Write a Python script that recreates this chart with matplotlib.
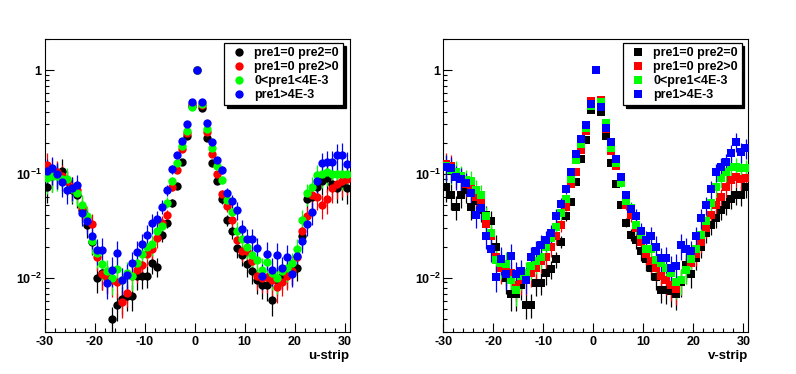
import matplotlib
matplotlib.use("Agg")
import matplotlib.pyplot as plt
from matplotlib.lines import Line2D
from matplotlib.ticker import FixedLocator, LogLocator, MultipleLocator, FuncFormatter, NullFormatter

# ---------------- data ----------------
strip_centers = [k + 0.5 for k in range(-30, 31)]   # bin centers -29.5 ... 30.5

labels = ["pre1=0 pre2=0", "pre1=0 pre2>0", "0<pre1<4E-3", "pre1>4E-3"]
colors = ["#000000", "#ff0000", "#00ff00", "#0000ff"]

u_black = [0.075, 0.095, 0.10, 0.108, 0.085, 0.07, 0.063, 0.045, 0.032, 0.022,
           0.010, 0.011, 0.0101, 0.0040, 0.0055, 0.0062, 0.0066, 0.0067, 0.0103, 0.0104,
           0.0104, 0.0138, 0.0128, 0.026, 0.034, 0.053, 0.077, 0.13, 0.23, 0.45,
           1.0,
           0.43, 0.22, 0.127, 0.085, 0.057, 0.036, 0.028, 0.0193, 0.0166, 0.0135,
           0.0115, 0.0095, 0.0086, 0.0086, 0.0061, 0.0095, 0.0105, 0.011, 0.0115, 0.0124,
           0.025, 0.058, 0.06, 0.075, 0.085, 0.091, 0.08, 0.073, 0.081, 0.073]
u_red = [0.122, 0.11, 0.105, 0.095, 0.085, 0.075, 0.07, 0.048, 0.038, 0.033,
         0.016, 0.0109, 0.010, 0.0095, 0.0092, 0.0058, 0.0072, 0.0105, 0.012, 0.0133,
         0.017, 0.019, 0.024, 0.034, 0.040, 0.075, 0.11, 0.173, 0.25, 0.47,
         1.0,
         0.46, 0.255, 0.157, 0.101, 0.064, 0.049, 0.036, 0.023, 0.018, 0.018,
         0.0144, 0.0103, 0.0100, 0.0102, 0.0096, 0.0081, 0.0092, 0.0105, 0.0115, 0.016,
         0.028, 0.039, 0.063, 0.06, 0.05, 0.057, 0.073, 0.08, 0.085, 0.089]
u_green = [0.091, 0.096, 0.095, 0.09, 0.09, 0.072, 0.066, 0.050, 0.039, 0.0226,
           0.0173, 0.0135, 0.0115, 0.010, 0.0121, 0.0095, 0.0110, 0.0103, 0.014, 0.017,
           0.020, 0.021, 0.028, 0.0316, 0.053, 0.086, 0.127, 0.186, 0.26, 0.44,
           1.0,
           0.47, 0.27, 0.18, 0.12, 0.088, 0.056, 0.043, 0.0285, 0.0236, 0.020,
           0.0166, 0.0149, 0.012, 0.0142, 0.011, 0.0099, 0.0115, 0.0125, 0.0138, 0.019,
           0.036, 0.065, 0.075, 0.098, 0.10, 0.105, 0.10, 0.10, 0.10, 0.10]
u_blue = [0.108, 0.113, 0.10, 0.083, 0.070, 0.074, 0.078, 0.042, 0.035, 0.025,
          0.0186, 0.0184, 0.0089, 0.0119, 0.0173, 0.0096, 0.0107, 0.0138, 0.0179, 0.021,
          0.026, 0.034, 0.037, 0.0485, 0.070, 0.111, 0.152, 0.21, 0.30, 0.49,
          1.0,
          0.49, 0.31, 0.205, 0.136, 0.11, 0.066, 0.055, 0.045, 0.0296, 0.0236,
          0.0236, 0.0193, 0.0105, 0.017, 0.012, 0.0166, 0.0124, 0.016, 0.0109, 0.0163,
          0.0227, 0.033, 0.043, 0.086, 0.127, 0.131, 0.131, 0.152, 0.152, 0.125]

v_black = [0.075, 0.063, 0.0485, 0.063, 0.07, 0.0485, 0.055, 0.045, 0.04, 0.035,
           0.02, 0.013, 0.01, 0.0069, 0.0069, 0.0085, 0.0055, 0.0055, 0.0089, 0.0089,
           0.011, 0.0121, 0.015, 0.0223, 0.039, 0.054, 0.084, 0.139, 0.212, 0.41,
           1.0,
           0.40, 0.23, 0.128, 0.08, 0.05, 0.034, 0.026, 0.023, 0.018, 0.015,
           0.0124, 0.0101, 0.0077, 0.0077, 0.0074, 0.0070, 0.009, 0.0133, 0.0108, 0.0155,
           0.02, 0.027, 0.032, 0.038, 0.045, 0.05, 0.058, 0.063, 0.063, 0.075]
v_red = [0.125, 0.12, 0.1, 0.09, 0.08, 0.072, 0.06, 0.055, 0.033, 0.025,
         0.016, 0.0125, 0.012, 0.011, 0.0085, 0.0095, 0.0095, 0.011, 0.0125, 0.0145,
         0.016, 0.020, 0.025, 0.032, 0.0485, 0.08, 0.105, 0.17, 0.26, 0.51,
         1.0,
         0.52, 0.27, 0.168, 0.12, 0.088, 0.05, 0.04, 0.03, 0.022, 0.017,
         0.0145, 0.0125, 0.0105, 0.0095, 0.0085, 0.0078, 0.0095, 0.012, 0.014, 0.017,
         0.022, 0.03, 0.04, 0.05, 0.06, 0.075, 0.088, 0.094, 0.09, 0.091]
v_green = [0.12, 0.11, 0.105, 0.095, 0.088, 0.085, 0.07, 0.063, 0.039, 0.027,
           0.0149, 0.014, 0.0135, 0.0095, 0.0077, 0.0105, 0.011, 0.0129, 0.0145, 0.016,
           0.02, 0.024, 0.031, 0.042, 0.057, 0.09, 0.136, 0.195, 0.28, 0.45,
           1.0,
           0.49, 0.31, 0.18, 0.127, 0.081, 0.055, 0.047, 0.032, 0.026, 0.019,
           0.019, 0.0149, 0.014, 0.0125, 0.011, 0.009, 0.0095, 0.012, 0.015, 0.019,
           0.026, 0.035, 0.052, 0.075, 0.091, 0.105, 0.118, 0.118, 0.115, 0.113]
v_blue = [0.118, 0.113, 0.094, 0.09, 0.081, 0.065, 0.040, 0.047, 0.025, 0.0189,
          0.0101, 0.0151, 0.0109, 0.0163, 0.0109, 0.0115, 0.0096, 0.0158, 0.018, 0.0208,
          0.023, 0.027, 0.039, 0.051, 0.071, 0.104, 0.156, 0.217, 0.296, 0.47,
          1.0,
          0.44, 0.28, 0.205, 0.14, 0.094, 0.063, 0.046, 0.039, 0.028, 0.023,
          0.025, 0.020, 0.0155, 0.0155, 0.0124, 0.013, 0.0208, 0.019, 0.018, 0.025,
          0.0375, 0.05, 0.071, 0.105, 0.118, 0.131, 0.158, 0.205, 0.164, 0.177]

# relative statistical errors per strip
rel_err_u = [0.30, 0.30, 0.28, 0.28, 0.26, 0.26, 0.25,
             0.25, 0.25, 0.25, 0.28, 0.30, 0.30, 0.32,
             0.30, 0.30, 0.28, 0.28, 0.26, 0.25, 0.24,
             0.22, 0.20, 0.15, 0.12, 0.09, 0.06, 0.04,
             0.03, 0.02, 0.01, 0.02, 0.03, 0.04, 0.06,
             0.09, 0.12, 0.15, 0.20, 0.22, 0.24, 0.25,
             0.26, 0.28, 0.30, 0.30, 0.30, 0.28, 0.28,
             0.26, 0.25, 0.24, 0.24, 0.25, 0.25, 0.26,
             0.27, 0.28, 0.28, 0.30, 0.30]
rel_err_v = [0.28, 0.28, 0.26, 0.26, 0.25, 0.25, 0.24,
             0.24, 0.24, 0.25, 0.28, 0.30, 0.30, 0.30,
             0.30, 0.28, 0.28, 0.26, 0.25, 0.24, 0.22,
             0.20, 0.18, 0.14, 0.10, 0.07, 0.05, 0.03,
             0.02, 0.02, 0.01, 0.02, 0.02, 0.03, 0.05,
             0.07, 0.10, 0.14, 0.18, 0.20, 0.22, 0.24,
             0.25, 0.26, 0.28, 0.30, 0.30, 0.28, 0.28,
             0.26, 0.24, 0.22, 0.20, 0.20, 0.20, 0.20,
             0.20, 0.20, 0.20, 0.22, 0.22]

u_series = [u_black, u_red, u_green, u_blue]
v_series = [v_black, v_red, v_green, v_blue]

# ---------------- style ----------------
plt.rcParams['font.family'] = ['Liberation Sans', 'DejaVu Sans']
plt.rcParams['font.weight'] = 'bold'
plt.rcParams['mathtext.fontset'] = 'custom'
plt.rcParams['mathtext.rm'] = 'Liberation Sans:bold'
plt.rcParams['mathtext.bf'] = 'Liberation Sans:bold'
plt.rcParams['mathtext.default'] = 'rm'
plt.rcParams['axes.unicode_minus'] = False

W, H = 796, 374
fig = plt.figure(figsize=(W / 100, H / 100), dpi=100)
fig.patch.set_facecolor('white')

ax_u = fig.add_axes([44.5 / W, (H - 332) / H, 305 / W, 293 / H])
ax_v = fig.add_axes([443.3 / W, (H - 332) / H, 305 / W, 293 / H])


def ylab(v, pos):
    if abs(v - 1) < 1e-9:
        return '1'
    if abs(v - 0.1) < 1e-9:
        return r'$10^{-1}$'
    if abs(v - 0.01) < 1e-9:
        return r'$10^{-2}$'
    return ''


def style_axis(ax, xlabel):
    ax.set_yscale('log')
    ax.set_xlim(-30, 31)
    ax.set_ylim(0.003, 2)
    ax.xaxis.set_major_locator(MultipleLocator(10))
    ax.xaxis.set_minor_locator(MultipleLocator(2))
    ax.yaxis.set_major_locator(FixedLocator([0.01, 0.1, 1]))
    ax.yaxis.set_major_formatter(FuncFormatter(ylab))
    ax.yaxis.set_minor_locator(LogLocator(base=10, subs=[2, 3, 4, 5, 6, 7, 8, 9]))
    ax.yaxis.set_minor_formatter(NullFormatter())
    ax.tick_params(axis='both', which='major', direction='in', length=6.5, width=0.8,
                   labelsize=9, top=False, right=False)
    ax.tick_params(axis='both', which='minor', direction='in', length=3.2, width=0.8,
                   top=False, right=False)
    ax.tick_params(axis='x', which='major', pad=3)
    ax.tick_params(axis='y', which='major', pad=2)
    for s in ax.spines.values():
        s.set_linewidth(0.8)
        s.set_color('black')
    ax.set_xlabel(xlabel, loc='right', fontsize=9.5, fontweight='bold', labelpad=1)


def draw(ax, series, marker, ms, xlabel):
    rel = rel_err_u if marker == 'o' else rel_err_v
    for vals, col in zip(series, colors):
        err = [v * r for v, r in zip(vals, rel)]
        ax.errorbar(strip_centers, vals, yerr=err, fmt=marker, color=col, ecolor=col,
                    ms=ms, mew=0, elinewidth=0.9, capsize=2.4, capthick=0.9, zorder=3)
    style_axis(ax, xlabel)
    handles = [Line2D([], [], ls='none', marker=marker, ms=ms, mew=0, color=c) for c in colors]
    leg = ax.legend(handles, labels, loc='upper right', bbox_to_anchor=(0.978, 0.985),
                    prop={'size': 9, 'weight': 'bold'}, frameon=True, fancybox=False,
                    edgecolor='black', framealpha=1, borderpad=0.3, labelspacing=0.16,
                    handlelength=1.8, handletextpad=0.3, borderaxespad=0,
                    shadow={'color': 'black', 'alpha': 1.0})
    leg.get_frame().set_linewidth(0.9)


draw(ax_u, u_series, 'o', 6.0, 'u-strip')
draw(ax_v, v_series, 's', 5.2, 'v-strip')

fig.savefig('out.png', dpi=100)
